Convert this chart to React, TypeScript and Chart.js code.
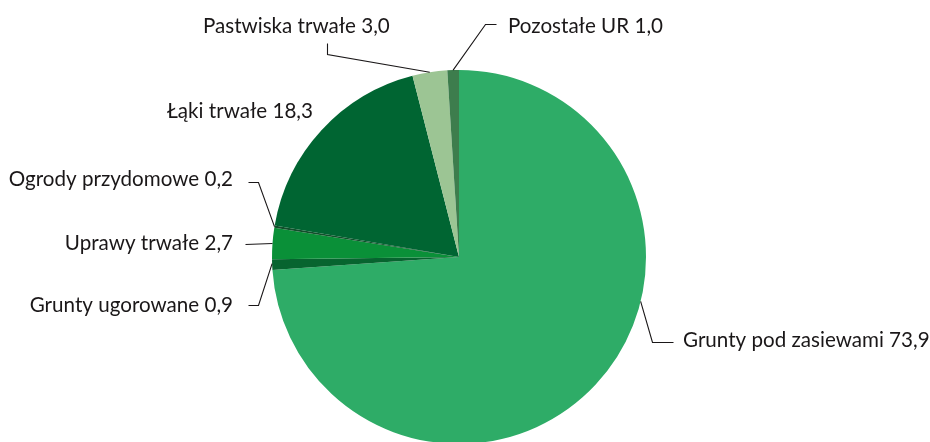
import React, { useEffect, useRef } from "react";
import { Chart, registerables } from "chart.js";

Chart.register(...registerables);

const categories = [
  "Grunty pod zasiewami",
  "Grunty ugorowane",
  "Uprawy trwałe",
  "Ogrody przydomowe",
  "Łąki trwałe",
  "Pastwiska trwałe",
  "Pozostałe UR",
];
const values = [73.9, 0.9, 2.7, 0.2, 18.3, 3.0, 1.0];
const valueLabels = ["73,9", "0,9", "2,7", "0,2", "18,3", "3,0", "1,0"];
const colors = ["#2eac67", "#07642f", "#0a9038", "#124f2b", "#006532", "#9cc594", "#3d7d4d"];

// label layout (annotation placement, in canvas pixels)
type LabelLayout = {
  x: number;
  y: number;
  align: CanvasTextAlign;
  frac: number | null; // anchor position within slice (null = no leader)
  path: [number, number][]; // leader points after the anchor
};
const labelLayout: LabelLayout[] = [
  { x: 683, y: 347, align: "left", frac: 0.39, path: [[652, 342], [673, 342]] },
  { x: 233, y: 312, align: "right", frac: 0.6, path: [[258, 305], [248, 305]] },
  { x: 233, y: 250, align: "right", frac: 0.5, path: [[245, 244]] },
  { x: 233, y: 186, align: "right", frac: 0.5, path: [[258, 182], [248, 182]] },
  { x: 167, y: 118, align: "left", frac: null, path: [] },
  { x: 203, y: 33, align: "left", frac: 0.5, path: [[327, 54], [327, 43]] },
  { x: 508, y: 33, align: "left", frac: 0.5, path: [[485, 24], [496, 24]] },
];

const FONT = '20.6px "Lato", sans-serif';

const labelPlugin = {
  id: "leaderLabels",
  afterDatasetsDraw(chart: any) {
    const ctx = chart.ctx as CanvasRenderingContext2D;
    const meta = chart.getDatasetMeta(0);
    ctx.save();
    ctx.strokeStyle = "#1a1718";
    ctx.lineWidth = 1.1;
    ctx.fillStyle = "#1a1718";
    ctx.font = FONT;
    ctx.textBaseline = "alphabetic";
    meta.data.forEach((arc: any, i: number) => {
      const lay = labelLayout[i];
      const { x, y, startAngle, endAngle, outerRadius } = arc.getProps(
        ["x", "y", "startAngle", "endAngle", "outerRadius"],
        true
      );
      if (lay.frac !== null) {
        const a = startAngle + (endAngle - startAngle) * lay.frac;
        const ax = x + Math.cos(a) * outerRadius;
        const ay = y + Math.sin(a) * outerRadius;
        ctx.beginPath();
        ctx.moveTo(ax, ay);
        lay.path.forEach(([px, py]) => ctx.lineTo(px + 0.5, py + 0.5));
        ctx.stroke();
      }
      ctx.textAlign = lay.align;
      ctx.fillText(`${categories[i]} ${valueLabels[i]}`, lay.x, lay.y);
    });
    ctx.restore();
  },
};

export default function App() {
  const ref = useRef<HTMLCanvasElement>(null);
  useEffect(() => {
    document.body.style.margin = "0";
    const chart = new Chart(ref.current!, {
      type: "pie",
      data: {
        labels: categories,
        datasets: [
          {
            data: values,
            backgroundColor: colors,
            borderWidth: 0,
          },
        ],
      },
      options: {
        responsive: false,
        animation: false,
        layout: { padding: { left: 272, right: 284, top: 70, bottom: 16 } },
        plugins: { legend: { display: false }, tooltip: { enabled: false } },
      },
      plugins: [labelPlugin],
    });
    return () => chart.destroy();
  }, []);
  return (
    <div style={{ width: 930, height: 442, overflow: "hidden", background: "#fff" }}>
      <canvas ref={ref} width={930} height={460} style={{ display: "block" }} />
    </div>
  );
}
